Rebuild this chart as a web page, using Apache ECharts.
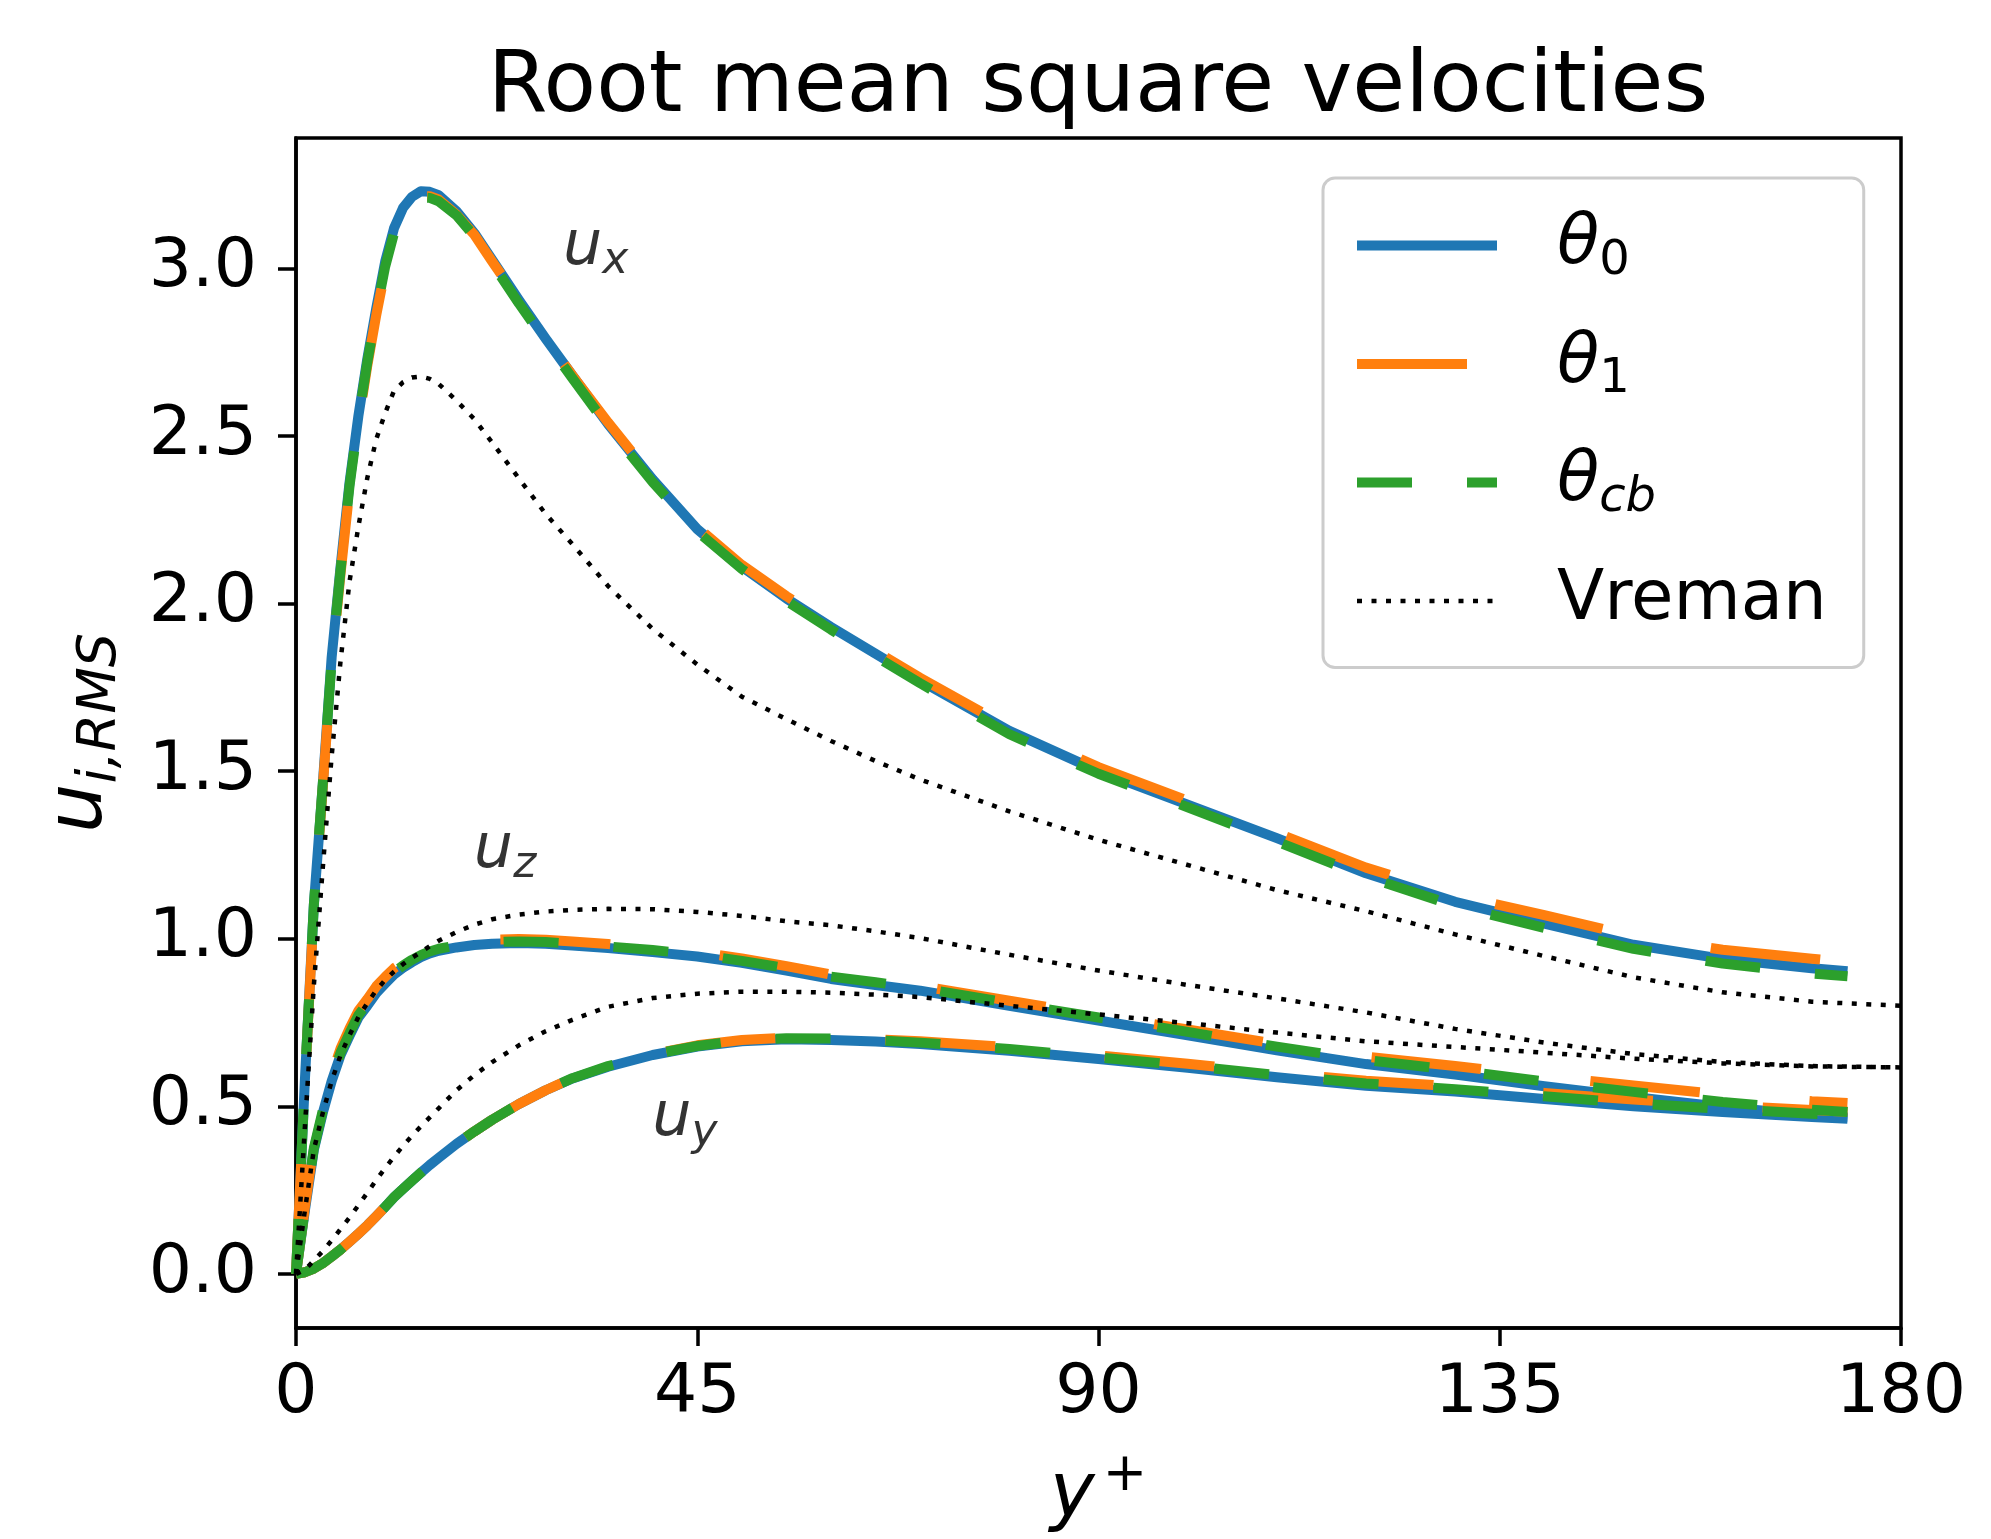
<!DOCTYPE html>
<html><head><meta charset="utf-8">
<script src="https://cdn.jsdelivr.net/npm/echarts@6/dist/echarts.min.js"></script>
<style>html,body{margin:0;padding:0;background:#fff}#c{width:1991px;height:1539px}</style>
</head><body><div id="c"></div>
<script>
// ---- data ----
const yPlus = [0,1,2,3,4,5,6,7,8,9,10,11,12,13,14,15,16,18,20,22,25,28,31,35,40,45,50,55,60,65,70,80,90,100,110,120,130,140,150,160,170,174];
const yPlusVreman = [0,1,2,3,4,5,6,7,8,9,10,11,12,13,14,15,16,18,20,22,25,28,31,35,40,45,50,55,60,65,70,80,90,100,110,120,130,140,150,160,170,180];

const ux_theta0 = [0,0.58,1.10,1.46,1.84,2.11,2.36,2.56,2.73,2.88,3.02,3.12,3.18,3.213,3.23,3.228,3.218,3.17,3.105,3.025,2.905,2.79,2.68,2.535,2.37,2.222,2.11,2.015,1.93,1.85,1.77,1.62,1.50,1.40,1.30,1.195,1.11,1.045,0.982,0.94,0.912,0.903];
const ux_theta1 = [0,0.57,1.09,1.45,1.82,2.09,2.34,2.54,2.71,2.86,2.995,3.10,3.165,3.2,3.215,3.215,3.205,3.16,3.10,3.02,2.905,2.79,2.68,2.54,2.375,2.228,2.115,2.022,1.938,1.858,1.778,1.63,1.512,1.412,1.315,1.212,1.13,1.07,1.008,0.967,0.94,0.93];
const ux_thetacb = [0,0.58,1.10,1.46,1.83,2.10,2.35,2.55,2.72,2.87,3.005,3.105,3.165,3.2,3.212,3.21,3.2,3.158,3.095,3.015,2.895,2.782,2.672,2.527,2.362,2.215,2.103,2.008,1.922,1.842,1.762,1.61,1.492,1.392,1.29,1.185,1.098,1.032,0.97,0.926,0.896,0.888];

const uz_theta0 = [0,0.19,0.37,0.48,0.575,0.653,0.71,0.765,0.80,0.838,0.866,0.893,0.913,0.93,0.945,0.956,0.964,0.974,0.981,0.985,0.987,0.985,0.98,0.972,0.96,0.947,0.928,0.905,0.88,0.862,0.845,0.80,0.756,0.712,0.667,0.626,0.595,0.56,0.528,0.498,0.474,0.467];
const uz_theta1 = [0,0.2,0.385,0.5,0.595,0.673,0.732,0.785,0.82,0.858,0.886,0.912,0.93,0.946,0.96,0.97,0.977,0.986,0.993,0.997,0.999,0.997,0.992,0.984,0.972,0.96,0.941,0.918,0.893,0.876,0.859,0.815,0.772,0.729,0.686,0.648,0.62,0.59,0.562,0.535,0.515,0.51];
const uz_thetacb = [0,0.195,0.375,0.487,0.583,0.66,0.718,0.772,0.808,0.846,0.874,0.9,0.92,0.937,0.951,0.962,0.97,0.98,0.987,0.99,0.992,0.99,0.985,0.977,0.966,0.953,0.934,0.912,0.887,0.87,0.853,0.808,0.765,0.722,0.678,0.638,0.608,0.574,0.543,0.513,0.49,0.483];

const uy_theta0 = [0,0.005,0.016,0.032,0.052,0.073,0.096,0.12,0.145,0.172,0.2,0.229,0.254,0.278,0.302,0.325,0.346,0.388,0.425,0.46,0.507,0.548,0.583,0.618,0.653,0.678,0.694,0.70,0.698,0.693,0.686,0.666,0.641,0.615,0.587,0.561,0.544,0.522,0.50,0.483,0.468,0.463];
const uy_theta1 = [0,0.005,0.016,0.032,0.052,0.073,0.096,0.12,0.145,0.172,0.2,0.229,0.254,0.278,0.302,0.325,0.346,0.388,0.425,0.46,0.507,0.548,0.584,0.62,0.656,0.682,0.698,0.705,0.704,0.7,0.694,0.676,0.652,0.627,0.6,0.576,0.56,0.54,0.52,0.503,0.489,0.484];
const uy_thetacb = [0,0.005,0.016,0.032,0.052,0.073,0.096,0.12,0.145,0.172,0.2,0.229,0.254,0.278,0.302,0.325,0.346,0.388,0.425,0.46,0.507,0.548,0.584,0.62,0.655,0.68,0.697,0.703,0.702,0.697,0.69,0.671,0.646,0.621,0.593,0.568,0.551,0.53,0.509,0.492,0.478,0.474];

const ux_vreman = [0,0.44,0.86,1.21,1.545,1.83,2.065,2.23,2.375,2.49,2.568,2.635,2.66,2.674,2.677,2.67,2.655,2.605,2.55,2.48,2.373,2.267,2.177,2.052,1.924,1.818,1.722,1.655,1.59,1.53,1.475,1.38,1.295,1.22,1.145,1.082,1.013,0.948,0.885,0.84,0.812,0.80];
const uz_vreman = [0,0.19,0.37,0.48,0.575,0.653,0.712,0.767,0.808,0.846,0.877,0.902,0.924,0.943,0.96,0.978,0.994,1.02,1.042,1.058,1.072,1.081,1.086,1.089,1.088,1.08,1.068,1.052,1.04,1.022,1.002,0.952,0.905,0.862,0.822,0.78,0.731,0.69,0.656,0.632,0.62,0.616];
const uy_vreman = [0,0.012,0.04,0.068,0.1,0.134,0.168,0.205,0.242,0.28,0.316,0.35,0.382,0.412,0.44,0.467,0.494,0.548,0.593,0.632,0.682,0.724,0.758,0.797,0.823,0.836,0.842,0.842,0.839,0.833,0.826,0.80,0.774,0.748,0.72,0.694,0.677,0.66,0.642,0.628,0.619,0.616];

const annotX = [30, 20, 40];
const annotY = [3.0, 1.2, 0.4];
const annotSub = ['x', 'z', 'y'];

const xTicks = [0, 45, 90, 135, 180];
const yTicks = [0, 0.5, 1.0, 1.5, 2.0, 2.5, 3.0];
const seriesNames = ['θ0', 'θ1', 'θcb', 'Vreman'];

// ---- chart ----
const F = 'DejaVu Sans';
const styles = {
  'θ0': {color:'#1f77b4', width:10, type:'solid'},
  'θ1': {color:'#ff7f0e', width:10, type:[110,110]},
  'θcb': {color:'#2ca02c', width:10, type:[55,55]},
  'Vreman': {color:'#000000', width:4.5, type:[5,9.5]}
};
function mk(name, xs, ys) {
  return {name:name, type:'line', data: xs.map((x,i)=>[x, ys[i]]), symbol:'none', showSymbol:false,
    smooth:false, lineStyle: Object.assign({cap:'butt', join:'round'}, styles[name]),
    itemStyle:{color: styles[name].color}, silent:true, animation:false, z:2};
}
const series = [
  mk('θ0', yPlus, ux_theta0), mk('θ0', yPlus, uz_theta0), mk('θ0', yPlus, uy_theta0),
  mk('θ1', yPlus, ux_theta1), mk('θ1', yPlus, uz_theta1), mk('θ1', yPlus, uy_theta1),
  mk('θcb', yPlus, ux_thetacb), mk('θcb', yPlus, uz_thetacb), mk('θcb', yPlus, uy_thetacb),
  mk('Vreman', yPlusVreman, ux_vreman), mk('Vreman', yPlusVreman, uz_vreman), mk('Vreman', yPlusVreman, uy_vreman),
  {
    name:'annot', type:'scatter', symbol:'circle', symbolSize:1, silent:true, animation:false, z:5,
    itemStyle:{color:'rgba(0,0,0,0)'},
    data: annotX.map((x,i)=>[x, annotY[i]]),
    label:{show:true, position:[0,0], align:'left', verticalAlign:'bottom', offset:[0,16],
      formatter: p => '{u|u}{s|' + annotSub[p.dataIndex] + '}',
      rich:{
        u:{fontFamily:F, fontStyle:'italic', fontSize:62, lineHeight:72, color:'#000'},
        s:{fontFamily:F, fontStyle:'italic', fontSize:44, lineHeight:40, verticalAlign:'bottom', color:'#000'}
      }}
  }
];

const chart = echarts.init(document.getElementById('c'), null, {renderer:'canvas'});
chart.setOption({
  animation:false,
  backgroundColor:'#ffffff',
  title:{text:'Root mean square velocities', left:1098, top:46, padding:0, textAlign:'center',
    textStyle:{fontFamily:F, fontSize:86, fontWeight:'normal', color:'#000'}},
  grid:{left:296, top:138, width:1605, height:1195, show:true, borderColor:'#000', borderWidth:3.5, backgroundColor:'transparent'},
  xAxis:{type:'value', min:0, max:180,
    axisLine:{show:true, onZero:false, lineStyle:{color:'#000', width:3.5}},
    axisTick:{show:true, length:18, lineStyle:{color:'#000', width:3.5}, customValues:xTicks},
    axisLabel:{fontFamily:F, fontSize:68, color:'#000', margin:32, customValues:xTicks},
    splitLine:{show:false},
    name:'{y|y}{p|+}', nameLocation:'middle', nameGap:122,
    nameTextStyle:{rich:{
      y:{fontFamily:F, fontStyle:'italic', fontSize:76, lineHeight:92, color:'#000'},
      p:{fontFamily:F, fontSize:53, lineHeight:56, verticalAlign:'top', padding:[0,0,0,8], color:'#000'}
    }}
  },
  yAxis:{type:'value', min:-0.1613, max:3.3886,
    axisLine:{show:true, onZero:false, lineStyle:{color:'#000', width:3.5}},
    axisTick:{show:true, length:18, lineStyle:{color:'#000', width:3.5}, customValues:yTicks},
    axisLabel:{fontFamily:F, fontSize:68, color:'#000', margin:39, customValues:yTicks, formatter: v => Number(v).toFixed(1)},
    splitLine:{show:false},
    name:'{u|u}{s|i,RMS}', nameLocation:'middle', nameGap:168, nameRotate:90,
    nameTextStyle:{rich:{
      u:{fontFamily:F, fontStyle:'italic', fontSize:78, lineHeight:94, color:'#000'},
      s:{fontFamily:F, fontStyle:'italic', fontSize:54, lineHeight:60, verticalAlign:'bottom', color:'#000'}
    }}
  },
  legend:{
    orient:'vertical', left:1323, top:178, padding:[33,37,32,29], itemGap:44, itemWidth:140, itemHeight:20,
    backgroundColor:'rgba(255,255,255,0.8)', borderColor:'#cccccc', borderWidth:3, borderRadius:12,
    selectedMode:false,
    data: seriesNames.map(n => ({name:n,
      lineStyle:{color:styles[n].color, width:styles[n].width, type:styles[n].type, cap:'butt'},
      itemStyle:{color:'rgba(0,0,0,0)', borderColor:'rgba(0,0,0,0)', borderWidth:0}})),
    formatter: function(n){
      if (n === 'θ0') return '{sp| }{th|θ}{sb|0}';
      if (n === 'θ1') return '{sp| }{th|θ}{sb|1}';
      if (n === 'θcb') return '{sp| }{th|θ}{si|cb}';
      return '{spv| }{v|Vreman}';
    },
    textStyle:{rich:{
      sp:{width:55, lineHeight:80, fontSize:20},
      spv:{width:55, lineHeight:50, fontSize:20},
      th:{fontFamily:F, fontStyle:'italic', fontSize:69, lineHeight:80, color:'#000'},
      sb:{fontFamily:F, fontSize:48, lineHeight:48, verticalAlign:'bottom', color:'#000'},
      si:{fontFamily:F, fontStyle:'italic', fontSize:48, lineHeight:48, verticalAlign:'bottom', color:'#000'},
      v:{fontFamily:F, fontSize:69, lineHeight:50, color:'#000'}
    }}
  },
  series: series
});
</script>
</body></html>
